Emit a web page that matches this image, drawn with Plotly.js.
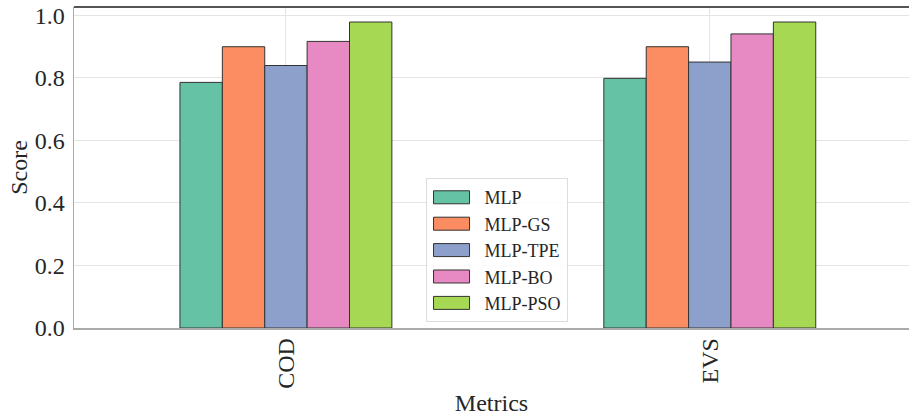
<!DOCTYPE html>
<html>
<head>
<meta charset="utf-8">
<script src="https://cdn.plot.ly/plotly-3.0.1.min.js"></script>
<style>html,body{margin:0;padding:0;overflow:hidden;background:#fff;}#chart{width:909px;height:417px;}</style>
</head>
<body>
<div id="chart"></div>
<script>
const categories = ["COD", "EVS"];
const seriesNames = ["MLP", "MLP-GS", "MLP-TPE", "MLP-BO", "MLP-PSO"];
const MLP = [0.785, 0.798];
const MLP_GS = [0.899, 0.899];
const MLP_TPE = [0.839, 0.850];
const MLP_BO = [0.916, 0.940];
const MLP_PSO = [0.978, 0.978];
const yTicks = [0.0, 0.2, 0.4, 0.6, 0.8, 1.0];
const yTickLabels = ["0.0", "0.2", "0.4", "0.6", "0.8", "1.0"];

const seriesValues = [MLP, MLP_GS, MLP_TPE, MLP_BO, MLP_PSO];
const colors = ["#66c2a5", "#fc8d62", "#8da0cb", "#e78ac3", "#a6d854"];
const font = "Liberation Serif";

const traces = seriesNames.map((name, i) => ({
  type: "bar",
  name: name,
  x: categories,
  y: seriesValues[i],
  marker: {color: colors[i], line: {color: "#333333", width: 1}},
  hoverinfo: "x+y+name"
}));

const layout = {
  width: 909, height: 417,
  margin: {l: 74, r: 0, t: 7, b: 89},
  paper_bgcolor: "#ffffff",
  plot_bgcolor: "#ffffff",
  font: {family: font, color: "#262626"},
  barmode: "group",
  bargap: 0.5,
  bargroupgap: 0,
  showlegend: true,
  legend: {
    x: 0.421, y: 0.467, xanchor: "left", yanchor: "top",
    bgcolor: "rgba(255,255,255,0.85)",
    bordercolor: "#dddddd", borderwidth: 1,
    font: {family: font, size: 18, color: "#262626"},
    itemwidth: 48,
    tracegroupgap: 0
  },
  xaxis: {
    type: "category",
    range: [-0.5, 1.47],
    showgrid: true, gridcolor: "#e4e4e4", gridwidth: 1,
    showline: true, linecolor: "#aaaaaa", linewidth: 1.5,
    tickangle: -90,
    tickfont: {family: font, size: 24, color: "#262626"},
    ticks: "", ticklabelstandoff: -1,
    title: {text: "Metrics", font: {family: font, size: 24, color: "#262626"}, standoff: 6},
    zeroline: false
  },
  yaxis: {
    range: [0, 1.026],
    tickvals: yTicks, ticktext: yTickLabels,
    showgrid: true, gridcolor: "#e4e4e4", gridwidth: 1,
    showline: true, linecolor: "#aaaaaa", linewidth: 1.5,
    tickfont: {family: font, size: 24, color: "#262626"},
    ticks: "", ticklabelstandoff: 3,
    title: {text: "Score", font: {family: font, size: 24, color: "#262626"}, standoff: 0},
    zeroline: false
  },
  shapes: [{
    type: "line", xref: "paper", yref: "paper", x0: 0, x1: 1, y0: 1, y1: 1,
    line: {color: "#555555", width: 2}
  }]
};

function widenPatches() {
  const gd = document.getElementById("chart");
  gd.querySelectorAll("g.traces").forEach(t => {
    t.querySelectorAll("path").forEach(p => {
      if (p.classList.contains("legendtoggle")) return;
      p.setAttribute("d", "M14,6.5H-22V-6.5H14Z");
    });
  });
}
const gdEl = document.getElementById("chart");
Plotly.newPlot(gdEl, traces, layout, {displayModeBar: false, staticPlot: true}).then(() => {
  widenPatches();
  gdEl.on("plotly_afterplot", widenPatches);
  let n = 0;
  const iv = setInterval(() => { widenPatches(); if (++n > 40) clearInterval(iv); }, 25);
});
</script>
</body>
</html>
